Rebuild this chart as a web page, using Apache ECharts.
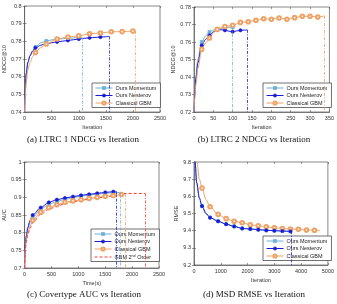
<!DOCTYPE html>
<html>
<head>
<meta charset="utf-8">
<script src="https://cdn.jsdelivr.net/npm/echarts@6/dist/echarts.min.js"></script>
<style>
  html, body { margin: 0; padding: 0; background: #fff; }
  #chart { width: 337px; height: 304px; }
</style>
</head>
<body>
<div id="chart"></div>
<script>
// (a) LTRC 1
var aMomX = [0, 10, 30, 60, 100, 150, 200, 300, 400, 500, 600, 700, 800, 900, 1000, 1060];
var aMomY = [0.740, 0.751, 0.761, 0.768, 0.772, 0.7748, 0.7768, 0.7792, 0.7802, 0.7808, 0.7812, 0.7815, 0.7817, 0.7819, 0.7820, 0.7821];
var aNesX = [0, 10, 30, 60, 100, 150, 200, 300, 400, 500, 600, 700, 800, 900, 1000, 1100, 1200, 1300, 1400, 1500, 1560];
var aNesY = [0.740, 0.752, 0.762, 0.768, 0.7718, 0.7745, 0.7763, 0.7778, 0.7786, 0.7792, 0.7797, 0.7801, 0.7805, 0.7809, 0.7813, 0.7817, 0.7820, 0.7822, 0.7824, 0.7826, 0.7828];
var aClsX = [0, 10, 30, 60, 100, 150, 200, 300, 400, 600, 800, 1000, 1200, 1400, 1600, 1800, 2000, 2040];
var aClsY = [0.740, 0.748, 0.757, 0.764, 0.768, 0.7715, 0.7737, 0.7765, 0.7785, 0.7813, 0.7824, 0.7831, 0.7843, 0.7847, 0.7854, 0.7855, 0.7858, 0.7858];

// (b) LTRC 2
var bMomX = [0, 2, 5, 10, 20, 30, 40, 50, 60, 70, 80, 90, 100];
var bMomY = [0.720, 0.731, 0.741, 0.750, 0.760, 0.7635, 0.7657, 0.7668, 0.7674, 0.7678, 0.7681, 0.7683, 0.7685];
var bNesX = [0, 2, 5, 10, 20, 30, 40, 50, 60, 70, 80, 90, 100, 110, 120, 130, 138];
var bNesY = [0.720, 0.730, 0.739, 0.748, 0.7581, 0.7615, 0.7638, 0.7658, 0.7670, 0.7670, 0.7667, 0.7662, 0.7659, 0.7663, 0.7667, 0.7668, 0.7669];
var bClsX = [0, 2, 5, 10, 20, 30, 40, 50, 60, 70, 80, 100, 120, 140, 160, 180, 200, 220, 240, 260, 280, 300, 320, 337];
var bClsY = [0.720, 0.728, 0.736, 0.745, 0.7558, 0.7595, 0.7623, 0.7652, 0.7672, 0.7682, 0.7689, 0.7695, 0.7712, 0.7716, 0.7724, 0.7733, 0.7730, 0.7737, 0.7730, 0.7739, 0.7747, 0.7747, 0.7743, 0.7749];

// (c) Covertype
var cMomX = [0, 10, 30, 60, 100, 150, 300, 450, 600, 750, 900, 1050, 1200, 1350, 1500, 1650, 1787];
var cMomY = [0.700, 0.755, 0.785, 0.810, 0.829, 0.843, 0.866, 0.880, 0.888, 0.894, 0.899, 0.903, 0.906, 0.909, 0.911, 0.913, 0.914];
var cNesX = [0, 10, 30, 60, 100, 150, 300, 450, 600, 750, 900, 1050, 1200, 1350, 1500, 1650, 1710];
var cNesY = [0.700, 0.760, 0.790, 0.815, 0.834, 0.850, 0.871, 0.8857, 0.8933, 0.898, 0.902, 0.9057, 0.9086, 0.9114, 0.914, 0.916, 0.916];
var cClsX = [0, 10, 30, 60, 100, 150, 300, 450, 600, 750, 900, 1050, 1200, 1350, 1500, 1650, 1800, 1870];
var cClsY = [0.700, 0.750, 0.778, 0.800, 0.818, 0.835, 0.858, 0.871, 0.879, 0.886, 0.890, 0.893, 0.897, 0.900, 0.903, 0.905, 0.908, 0.909];
var cSecX = [0, 10, 30, 60, 100, 150, 300, 450, 600, 750, 900, 1050, 1200, 1350, 1500, 1650, 1800, 1850, 2245];
var cSecY = [0.700, 0.745, 0.772, 0.794, 0.812, 0.828, 0.852, 0.866, 0.875, 0.882, 0.887, 0.891, 0.895, 0.898, 0.901, 0.904, 0.907, 0.911, 0.911];

// (d) MSD
var dNesX = [0, 40, 100, 200, 300, 450, 600, 900, 1200, 1500, 1800, 2100, 2400, 2700, 3000, 3300, 3600, 3640];
var dNesY = [10.1, 9.80, 9.68, 9.59, 9.543, 9.50, 9.476, 9.455, 9.438, 9.425, 9.413, 9.410, 9.406, 9.402, 9.400, 9.398, 9.396, 9.396];
var dMomX = dNesX;
var dMomY = dNesY;
var dClsX = [0, 50, 110, 200, 300, 450, 600, 900, 1200, 1500, 1800, 2100, 2400, 2700, 3000, 3300, 3600, 3900, 4200, 4500, 4700];
var dClsY = [10.3, 10.0, 9.80, 9.70, 9.648, 9.58, 9.539, 9.495, 9.470, 9.455, 9.446, 9.434, 9.429, 9.423, 9.417, 9.413, 9.410, 9.408, 9.404, 9.402, 9.400];

var legendNames = ['Ours Momentum', 'Ours Nesterov', 'Classical GBM'];
var legendNamesC = ['Ours Momentum', 'Ours Nesterov', 'Classical GBM',
    { name: 'GBM 2nd Order', itemStyle: { opacity: 0 } }];

var colMom = '#6fb0d4';
var colNes = '#1a1ad6';
var colCls = '#eea265';
var colSec = '#ff3838';

var chart = echarts.init(document.getElementById('chart'));

function mkLine(name, xs, ys, step, gi, color, symbol, yMin, drop, dashed) {
    var data = [];
    for (var i = 0; i < xs.length; i++) {
        var mark = step > 0 && xs[i] > 0 && xs[i] % step === 0;
        data.push({ value: [xs[i], ys[i]], symbol: mark ? symbol : 'none' });
    }
    var n = xs.length - 1;
    var s = {
        name: name,
        type: 'line',
        xAxisIndex: gi * 2,
        yAxisIndex: gi * 2,
        data: data,
        symbol: symbol,
        symbolSize: symbol === 'rect' ? 3 : (symbol === 'circle' ? 3.2 : 3.6),
        smooth: 0.3,
        smoothMonotone: 'x',
        clip: true,
        animation: false,
        itemStyle: { color: color, borderColor: color, borderWidth: 0.7 },
        lineStyle: { color: color, width: 1, type: dashed ? [3, 2] : 'solid' },
        z: 3
    };
    if (drop) {
        s.markLine = {
            silent: true,
            symbol: 'none',
            animation: false,
            label: { show: false },
            lineStyle: { color: color, width: 0.8, type: [3, 1.5, 1, 1.5] },
            data: [[{ coord: [xs[n], ys[n]] }, { coord: [xs[n], yMin] }]]
        };
    }
    return s;
}

var grids = [
    { left: 24, top: 6, width: 136, height: 106 },
    { left: 194, top: 7, width: 137, height: 105 },
    { left: 22, top: 162, width: 137, height: 106 },
    { left: 194, top: 162, width: 137, height: 103 }
];
var xCfg = [
    { min: 0, max: 2500, interval: 500, name: 'Iteration' },
    { min: 0, max: 350, interval: 50, name: 'Iteration' },
    { min: 0, max: 2500, interval: 500, name: 'Time(s)' },
    { min: 0, max: 5000, interval: 1000, name: 'Iteration' }
];
var yCfg = [
    { min: 0.74, max: 0.8, interval: 0.01, name: 'NDCG@10' },
    { min: 0.72, max: 0.78, interval: 0.01, name: 'NDCG@10' },
    { min: 0.7, max: 1, interval: 0.05, name: 'AUC' },
    { min: 9.2, max: 9.8, interval: 0.1, name: 'RMSE' }
];

var font = 'Liberation Sans';
var plain = function (v) { return String(+v.toFixed(3)); };
var xAxes = [], yAxes = [];
grids.forEach(function (g, i) {
    g.show = true;
    g.borderColor = '#555';
    g.borderWidth = 0.7;
    g.backgroundColor = '#fff';
    xAxes.push({
        gridIndex: i, type: 'value', min: xCfg[i].min, max: xCfg[i].max, interval: xCfg[i].interval,
        name: xCfg[i].name, nameLocation: 'middle', nameGap: 12,
        nameTextStyle: { fontSize: 5.5, color: '#333', fontFamily: font },
        axisLine: { show: true, lineStyle: { color: '#555', width: 0.7 } },
        axisTick: { show: true, inside: true, length: 2, lineStyle: { color: '#555', width: 0.6 } },
        axisLabel: { fontSize: 5.5, color: '#333', margin: 3, fontFamily: font, formatter: plain },
        splitLine: { show: false }
    });
    xAxes.push({
        gridIndex: i, type: 'value', position: 'top', min: xCfg[i].min, max: xCfg[i].max, interval: xCfg[i].interval,
        axisLine: { show: false },
        axisTick: { show: true, inside: true, length: 2, lineStyle: { color: '#555', width: 0.6 } },
        axisLabel: { show: false }, splitLine: { show: false }
    });
    yAxes.push({
        gridIndex: i, type: 'value', min: yCfg[i].min, max: yCfg[i].max, interval: yCfg[i].interval,
        name: yCfg[i].name, nameLocation: 'middle', nameGap: 15, nameRotate: 90,
        nameTextStyle: { fontSize: 5.5, color: '#333', fontFamily: font },
        axisLine: { show: true, lineStyle: { color: '#555', width: 0.7 } },
        axisTick: { show: true, inside: true, length: 2, lineStyle: { color: '#555', width: 0.6 } },
        axisLabel: { fontSize: 5.5, color: '#333', margin: 3, fontFamily: font, formatter: plain },
        splitLine: { show: false }
    });
    yAxes.push({
        gridIndex: i, type: 'value', position: 'right', min: yCfg[i].min, max: yCfg[i].max, interval: yCfg[i].interval,
        axisLine: { show: false },
        axisTick: { show: true, inside: true, length: 2, lineStyle: { color: '#555', width: 0.6 } },
        axisLabel: { show: false }, splitLine: { show: false }
    });
});

var series = [
    mkLine('Ours Momentum', aMomX, aMomY, 200, 0, colMom, 'rect', 0.74, true),
    mkLine('Ours Nesterov', aNesX, aNesY, 200, 0, colNes, 'circle', 0.74, true),
    mkLine('Classical GBM', aClsX, aClsY, 200, 0, colCls, 'emptyCircle', 0.74, true),

    mkLine('Ours Momentum', bMomX, bMomY, 20, 1, colMom, 'rect', 0.72, true),
    mkLine('Ours Nesterov', bNesX, bNesY, 20, 1, colNes, 'circle', 0.72, true),
    mkLine('Classical GBM', bClsX, bClsY, 20, 1, colCls, 'emptyCircle', 0.72, true),

    mkLine('Ours Momentum', cMomX, cMomY, 150, 2, colMom, 'rect', 0.7, true),
    mkLine('Ours Nesterov', cNesX, cNesY, 150, 2, colNes, 'circle', 0.7, true),
    mkLine('Classical GBM', cClsX, cClsY, 150, 2, colCls, 'emptyCircle', 0.7, true),
    mkLine('GBM 2nd Order', cSecX, cSecY, 0, 2, colSec, 'none', 0.7, true, true),

    mkLine('Ours Momentum', dMomX, dMomY, 300, 3, colMom, 'rect', 9.2, false),
    mkLine('Classical GBM', dClsX, dClsY, 300, 3, colCls, 'emptyCircle', 9.2, false),
    mkLine('Ours Nesterov', dNesX, dNesY, 300, 3, colNes, 'circle', 9.2, true)
];

function mkLegend(names, left, top) {
    return {
        data: names, left: left, top: top, orient: 'vertical',
        backgroundColor: '#fff', borderColor: '#333', borderWidth: 0.7,
        padding: [2, 4, 1.5, 3], itemGap: 1.5, itemWidth: 17, itemHeight: 4,
        selectedMode: false,
        lineStyle: { width: 1 },
        itemStyle: { borderWidth: 0.7 },
        formatter: function (name) {
            return name === 'GBM 2nd Order' ? 'GBM 2{sup|nd} Order' : name;
        },
        textStyle: {
            fontSize: 5.5, color: '#222', fontFamily: font, padding: [0, 0, 0, -2],
            rich: { sup: { fontSize: 3.6, verticalAlign: 'top', padding: [0, 0, 3, 0], fontFamily: font, color: '#222' } }
        }
    };
}

var captionStyle = { fontFamily: 'Liberation Serif', fontSize: 9, fill: '#111', textAlign: 'center' };
function cap(text, x, y) {
    return { type: 'text', x: x, y: y, silent: true,
        style: Object.assign({ text: text }, captionStyle) };
}

var option = {
    animation: false,
    grid: grids,
    xAxis: xAxes,
    yAxis: yAxes,
    legend: [
        mkLegend(legendNames, 92, 83),
        mkLegend(legendNames, 263, 83),
        mkLegend(legendNamesC, 91, 229),
        mkLegend(legendNames, 263, 236)
    ],
    series: series,
    graphic: [
        cap('(a) LTRC 1 NDCG vs Iteration', 83, 135),
        cap('(b) LTRC 2 NDCG vs Iteration', 254, 135),
        cap('(c) Covertype AUC vs Iteration', 84, 290),
        cap('(d) MSD RMSE vs Iteration', 254, 290)
    ]
};
chart.setOption(option);
</script>
</body>
</html>
